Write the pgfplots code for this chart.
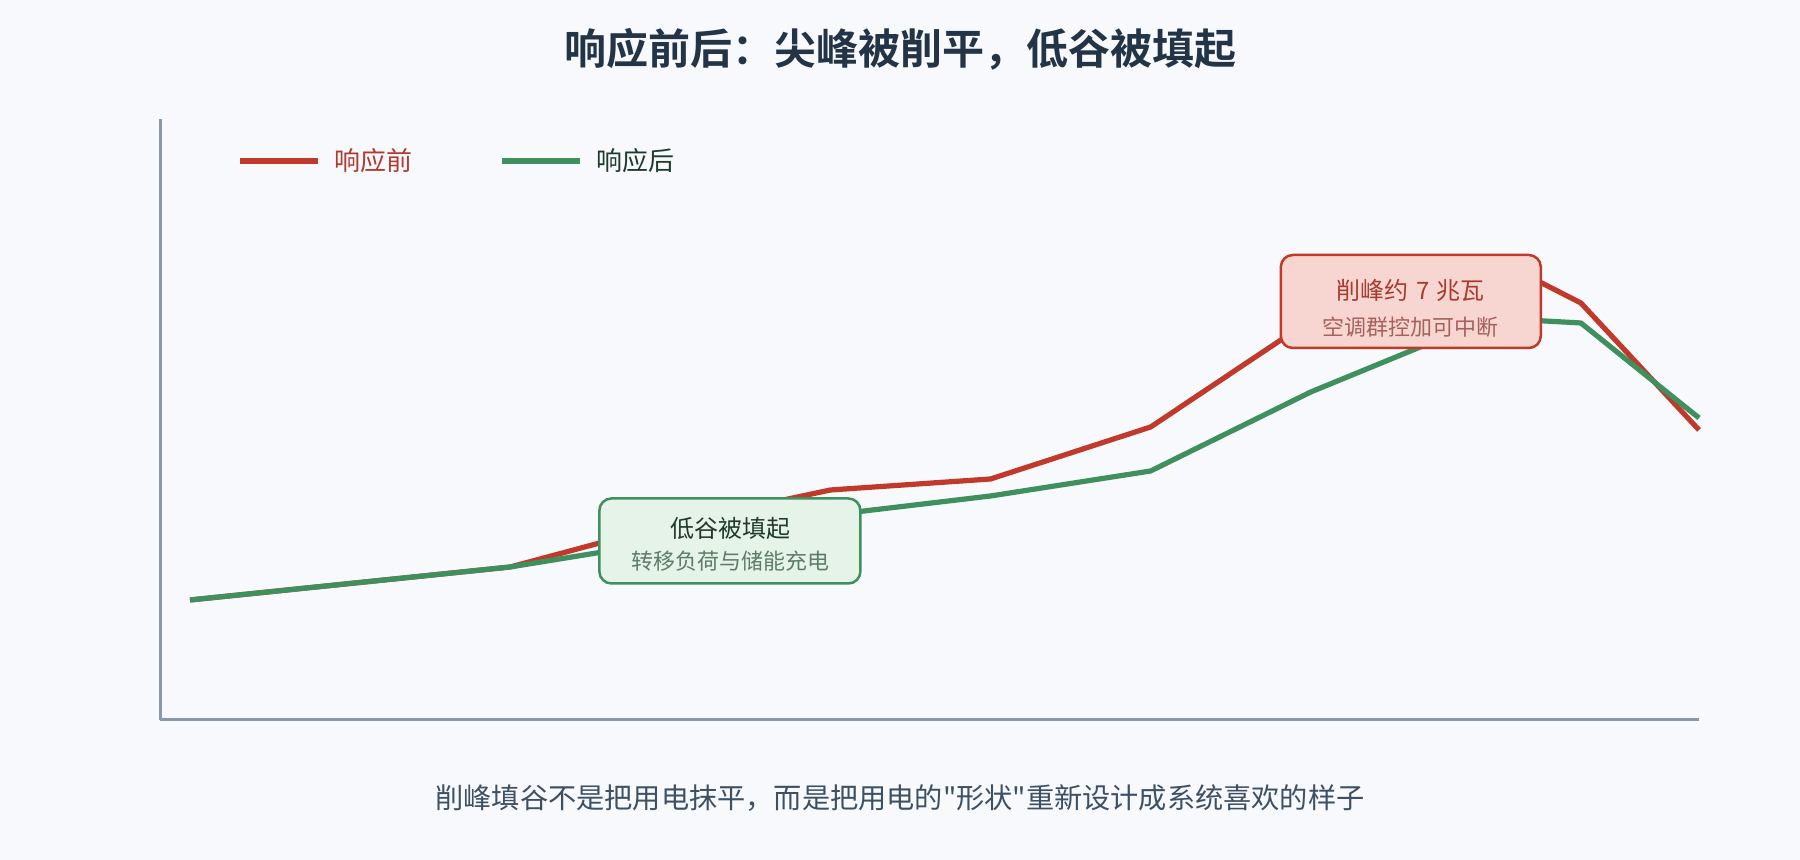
\documentclass[border=0pt]{standalone}
\usepackage{pgfplots}
\pgfplotsset{compat=1.18}
\usepackage{fontspec}
\setmainfont{Noto Sans CJK SC}[BoldFont={Noto Sans CJK SC Bold}, Ligatures=TeXOff]
\definecolor{bg}{HTML}{F7F9FC}
\definecolor{titlec}{HTML}{243447}
\definecolor{capc}{HTML}{3E5064}
\definecolor{axisc}{HTML}{8A99A8}
\definecolor{redl}{HTML}{C0392B}
\definecolor{greenl}{HTML}{3F8F5F}
\definecolor{redtxt}{HTML}{A93A2E}
\definecolor{redtxt2}{HTML}{A5615A}
\definecolor{redfill}{HTML}{F7D6D2}
\definecolor{greenfill}{HTML}{E6F3E8}
\definecolor{greentxt}{HTML}{1F3A2B}
\definecolor{greentxt2}{HTML}{5E7D68}
\definecolor{legred}{HTML}{B03A2E}
\definecolor{leggreen}{HTML}{1E3A2A}

\pgfplotstableread{
x      before after
0      12.0   12.0
4      15.3   15.3
6      19.6   17.9
8      23.0   20.5
10     24.1   22.4
12     29.3   24.9
14     40.0   32.8
16.25  46.3   40.2
17.375 41.7   39.7
18.85  29.0   30.2
}\loaddata

\begin{document}
\begin{tikzpicture}
\fill[bg] (0,0) rectangle (900pt,430pt);
\useasboundingbox (0,0) rectangle (900pt,430pt);
\node[font=\fontsize{21}{25}\selectfont\bfseries, text=titlec] at (450pt,405.5pt) {响应前后：尖峰被削平，低谷被填起};
\node[font=\fontsize{14.1}{17}\selectfont, text=capc] at (450pt,31pt) {削峰填谷不是把用电抹平，而是把用电的"形状"重新设计成系统喜欢的样子};
\begin{axis}[
  at={(80pt,70pt)}, anchor=south west,
  width=769.5pt, height=300.5pt, scale only axis,
  xmin=-0.375, xmax=18.85, ymin=0, ymax=60.1,
  axis lines=left,
  axis line style={draw=axisc, line width=1.5pt, -},
  ticks=none,
  clip=false,
  legend columns=2,
  legend image code/.code={\draw[#1, line width=2.6pt] (0pt,0pt) -- (39pt,0pt);},
  legend style={at={(rel axis cs:0.0503,0.93)}, anchor=west, draw=none, fill=none,
    inner sep=0pt,
    nodes={inner sep=0pt, font=\fontsize{13}{15}\selectfont},
    /tikz/every odd column/.append style={column sep=6.7pt},
    /tikz/every even column/.append style={column sep=43.5pt}},
]
\addplot[redl, line width=2.6pt, line join=round] table[x=x, y=before] {\loaddata};
\addlegendentry{\textcolor{legred}{响应前}}
\addplot[greenl, line width=2.6pt, line join=round] table[x=x, y=after] {\loaddata};
\addlegendentry{\textcolor{leggreen}{响应后}}

\node[draw=greenl, line width=1.25pt, fill=greenfill, rounded corners=6pt, minimum width=130.5pt, minimum height=42.5pt, inner sep=0pt] at (axis cs:6.744,17.9) {};
\node[text=greentxt, font=\fontsize{12}{14}\selectfont, inner sep=0pt] at (axis cs:6.75,19.2) {低谷被填起};
\node[text=greentxt2, font=\fontsize{11}{13}\selectfont, inner sep=0pt] at (axis cs:6.75,15.9) {转移负荷与储能充电};

\node[draw=redl, line width=1.25pt, fill=redfill, rounded corners=6pt, minimum width=130pt, minimum height=46.5pt, inner sep=0pt] at (axis cs:15.25,41.85) {};
\node[text=redtxt, font=\fontsize{12}{14}\selectfont, inner sep=0pt] at (axis cs:15.25,43.0) {削峰约\hspace{0.3em}7\hspace{0.3em}兆瓦};
\node[text=redtxt2, font=\fontsize{11}{13}\selectfont, inner sep=0pt] at (axis cs:15.25,39.3) {空调群控加可中断};
\end{axis}
\end{tikzpicture}
\end{document}
